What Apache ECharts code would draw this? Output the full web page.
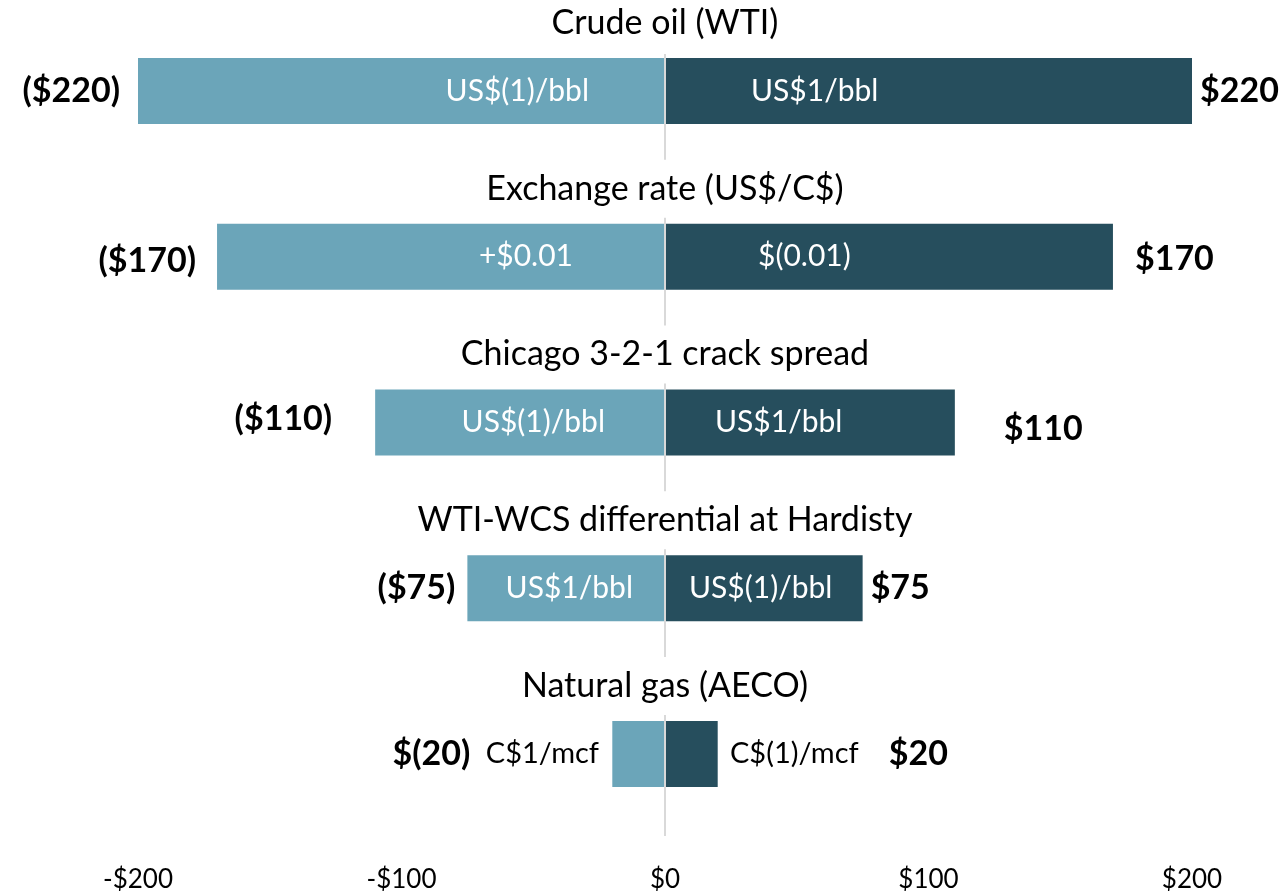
<!DOCTYPE html>
<html>
<head>
<meta charset="utf-8">
<script src="https://cdn.jsdelivr.net/npm/echarts@6/dist/echarts.min.js"></script>
<style>
html, body { margin: 0; padding: 0; background: #fff; }
#main { width: 1284px; height: 893px; }
</style>
</head>
<body>
<div id="main"></div>
<script>
// sensitivity drivers (top to bottom)
var categories = ['Crude oil (WTI)', 'Exchange rate (US$/C$)', 'Chicago 3-2-1 crack spread', 'WTI-WCS differential at Hardisty', 'Natural gas (AECO)'];
var downValues = [-220, -170, -110, -75, -20];
var upValues = [220, 170, 110, 75, 20];
var downLabels = ['($220)', '($170)', '($110)', '($75)', '$(20)'];
var upLabels = ['$220', '$170', '$110', '$75', '$20'];
var downDrivers = ['US$(1)/bbl', '+$0.01', 'US$(1)/bbl', 'US$1/bbl', 'C$1/mcf'];
var upDrivers = ['US$1/bbl', '$(0.01)', 'US$1/bbl', 'US$(1)/bbl', 'C$(1)/mcf'];
var xTicks = [-200, -100, 0, 100, 200];

var FONT = 'Lato, "Open Sans", sans-serif';
var LIGHT = '#6ba5b9';
var DARK = '#264e5d';

// label spacing, tuned by eye
var downGap = [18, 21, 43, 12, 142];
var upGap = [8, 22, 49, 8, 171];
var downShift = [0, 4, -3, 0, 0];
var upShift = [0, 2, 7, 0, 0];
var inLeftGap = [76, 92, 60, 32, 66];
var inRightGap = [86, 93, 50, 24, 65];

function barData(vals, labels, gaps, shifts) {
    return vals.map(function (v, i) {
        return {
            value: v,
            label: { distance: gaps[i], offset: [0, shifts[i]], formatter: labels[i] }
        };
    });
}

function driverData(texts, gaps) {
    return texts.map(function (t, i) {
        var outside = i === texts.length - 1;
        return {
            value: [0, i],
            label: {
                distance: gaps[i],
                formatter: t,
                color: outside ? '#000' : '#fff',
                fontSize: outside ? 29 : 30
            }
        };
    });
}

var endLabel = { show: true, fontFamily: FONT, fontSize: 34, fontWeight: 'bold', color: '#000' };
var driverLabel = { show: true, fontFamily: FONT, fontSize: 30, color: '#fff' };

var myChart = echarts.init(document.getElementById('main'));
var option = {
    animation: false,
    grid: { left: 138, right: 92, top: 8, bottom: 55 },
    xAxis: {
        type: 'value',
        min: xTicks[0],
        max: xTicks[xTicks.length - 1],
        interval: 100,
        splitLine: { show: false },
        axisLine: { show: false },
        axisTick: { show: false },
        axisLabel: {
            margin: 30,
            fontFamily: FONT,
            fontSize: 26,
            color: '#000',
            formatter: function (v) { return v < 0 ? '-$' + Math.abs(v) : '$' + v; }
        }
    },
    yAxis: {
        type: 'category',
        inverse: true,
        data: categories,
        axisLine: { show: false },
        axisTick: { show: false },
        axisLabel: { show: false }
    },
    series: [
        {
            name: 'down',
            type: 'bar',
            barWidth: 66,
            barGap: '-100%',
            itemStyle: { color: LIGHT },
            label: Object.assign({ position: 'left' }, endLabel),
            data: barData(downValues, downLabels, downGap, downShift)
        },
        {
            name: 'up',
            type: 'bar',
            barWidth: 66,
            barGap: '-100%',
            itemStyle: { color: DARK },
            label: Object.assign({ position: 'right' }, endLabel),
            data: barData(upValues, upLabels, upGap, upShift)
        },
        {
            name: 'downDriver',
            type: 'scatter',
            symbolSize: 0,
            z: 5,
            itemStyle: { opacity: 1 },
            label: Object.assign({ position: 'left' }, driverLabel),
            data: driverData(downDrivers, inLeftGap)
        },
        {
            name: 'upDriver',
            type: 'scatter',
            symbolSize: 0,
            z: 5,
            itemStyle: { opacity: 1 },
            label: Object.assign({ position: 'right' }, driverLabel),
            data: driverData(upDrivers, inRightGap)
        },
        {
            // category titles above each bar, white box hides the zero line
            name: 'titles',
            type: 'custom',
            z: 6,
            data: categories.map(function (c, i) { return [0, i]; }),
            renderItem: function (params, api) {
                var p = api.coord([0, api.value(1)]);
                return {
                    type: 'text',
                    x: p[0],
                    y: p[1] - 68,
                    style: {
                        text: categories[params.dataIndex],
                        fill: '#000',
                        font: '34px ' + FONT,
                        align: 'center',
                        verticalAlign: 'middle',
                        backgroundColor: '#fff',
                        padding: [12, 8]
                    }
                };
            }
        },
        {
            // zero line
            name: 'zero',
            type: 'custom',
            z: 4,
            data: [[0, 0]],
            renderItem: function (params, api) {
                var p = api.coord([0, 0]);
                var bottom = params.coordSys.y + params.coordSys.height - 1;
                return {
                    type: 'line',
                    shape: { x1: p[0], y1: p[1] - 37, x2: p[0], y2: bottom },
                    style: { stroke: '#d9d9d9', lineWidth: 2 }
                };
            }
        }
    ]
};
myChart.setOption(option);
</script>
</body>
</html>
